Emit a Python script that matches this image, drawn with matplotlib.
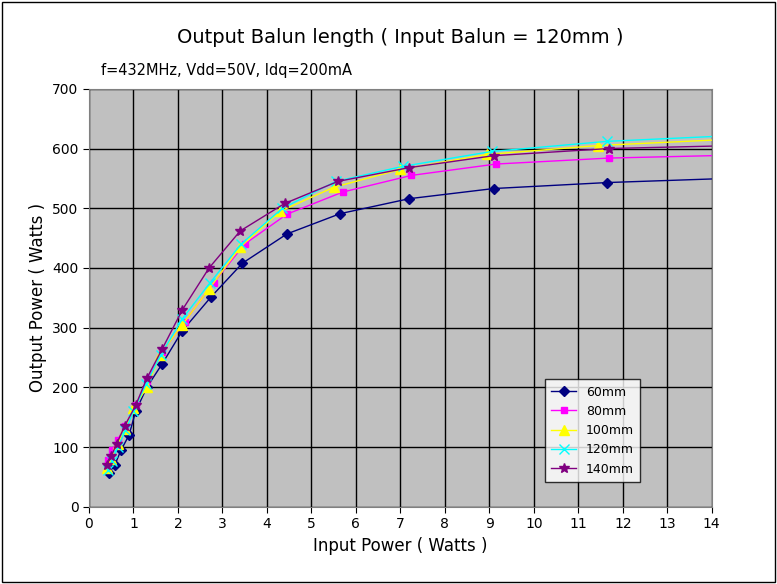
import matplotlib.pyplot as plt

labels = ["60mm", "80mm", "100mm", "120mm", "140mm"]
colors = ["#000080", "#FF00FF", "#FFFF00", "#00FFFF", "#800080"]
markers = ["D", "s", "^", "x", "*"]

x_60 = [0.45, 0.58, 0.72, 0.9, 1.05, 1.3, 1.65, 2.1, 2.75, 3.45, 4.45, 5.65, 7.2, 9.1, 11.65, 14.0]
y_60 = [57, 70, 95, 120, 160, 200, 240, 295, 352, 408, 457, 491, 516, 533, 543, 549]
x_80 = [0.42, 0.52, 0.65, 0.8, 1.05, 1.3, 1.65, 2.15, 2.8, 3.5, 4.45, 5.7, 7.25, 9.15, 11.7, 14.0]
y_80 = [78, 95, 112, 135, 170, 210, 260, 310, 375, 440, 490, 527, 555, 574, 584, 588]
x_100 = [0.4, 0.5, 0.65, 0.8, 1.0, 1.3, 1.6, 2.1, 2.7, 3.4, 4.3, 5.5, 7.0, 8.95, 11.45, 14.0]
y_100 = [65, 80, 105, 130, 165, 200, 255, 305, 365, 435, 495, 535, 565, 590, 605, 614]
x_120 = [0.42, 0.52, 0.65, 0.82, 1.0, 1.28, 1.62, 2.1, 2.72, 3.42, 4.35, 5.55, 7.05, 9.05, 11.65, 14.0]
y_120 = [62, 77, 100, 128, 160, 205, 255, 315, 375, 440, 500, 545, 570, 595, 612, 620]
x_140 = [0.4, 0.5, 0.62, 0.8, 1.05, 1.3, 1.65, 2.1, 2.7, 3.4, 4.4, 5.6, 7.2, 9.1, 11.7, 14.0]
y_140 = [70, 85, 105, 135, 170, 215, 265, 330, 400, 462, 508, 545, 568, 588, 600, 604]

xs = [x_60, x_80, x_100, x_120, x_140]
ys = [y_60, y_80, y_100, y_120, y_140]

fig = plt.figure(figsize=(7.77, 5.84), dpi=100)
ax = fig.add_axes([0.1145, 0.132, 0.8015, 0.716])
ax.set_facecolor("#C0C0C0")

for x, y, lab, c, m in zip(xs, ys, labels, colors, markers):
    ms = 5 if m in ("D", "s") else 7
    ax.plot(x, y, color=c, lw=1, marker=m, ms=ms, markevery=list(range(len(x) - 1)),
            mec=c, mfc=c, label=lab)

ax.set_xlim(0, 14)
ax.set_ylim(0, 700)
ax.set_xticks(range(0, 15))
ax.set_yticks(range(0, 701, 100))
ax.grid(True, color="black", lw=1)
ax.set_axisbelow(True)
ax.tick_params(labelsize=10, length=4)
for s in ax.spines.values():
    s.set_color("#808080")

ax.set_xlabel("Input Power ( Watts )", fontsize=12)
ax.set_ylabel("Output Power ( Watts )", fontsize=12)
fig.text(0.515, 0.935, "Output Balun length ( Input Balun = 120mm )", ha="center", va="center", fontsize=14)
fig.text(0.13, 0.88, "f=432MHz, Vdd=50V, Idq=200mA", ha="left", va="center", fontsize=10.5)

leg = ax.legend(loc="lower left", bbox_to_anchor=(0.722, 0.045), fontsize=9, frameon=True,
                fancybox=False, facecolor="white", edgecolor="black", borderpad=0.5, labelspacing=0.5)

fig.patches.append(plt.Rectangle((0.003, 0.004), 0.994, 0.992, transform=fig.transFigure,
                                 fill=False, edgecolor="black", lw=1))
fig.savefig("out.png", dpi=100)
